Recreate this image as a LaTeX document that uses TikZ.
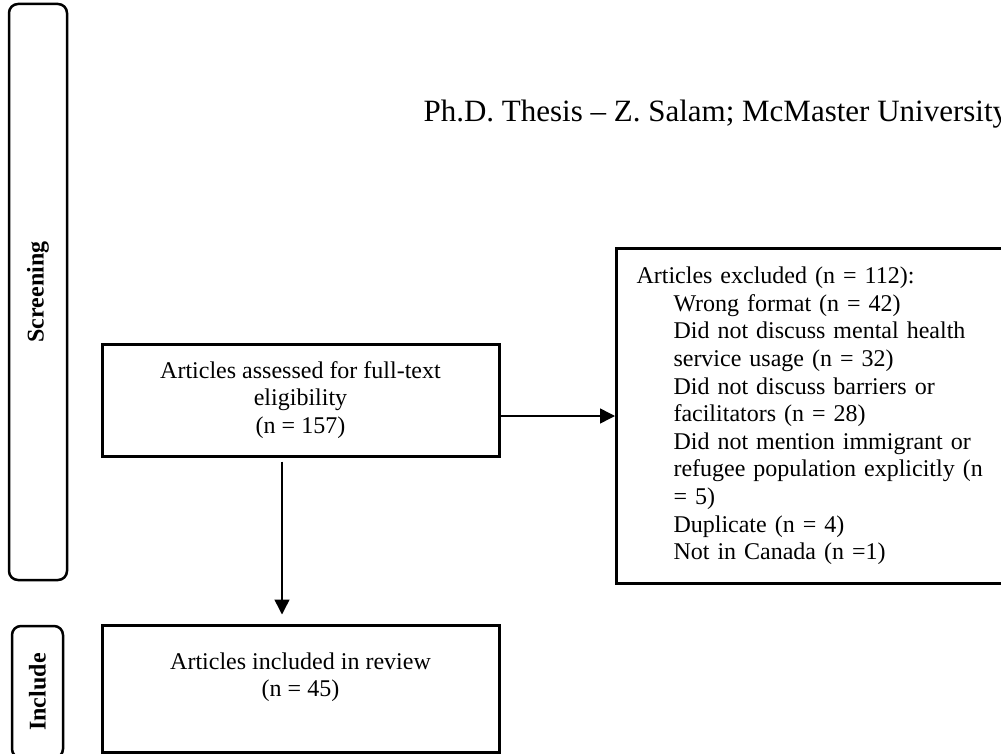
\documentclass[tikz,border=0pt]{standalone}
\usepackage{fontspec}
\setmainfont{Liberation Serif}
\usetikzlibrary{arrows.meta}

\begin{document}
\begin{tikzpicture}[x=1pt, y=-1pt,
    every node/.style={font=\fontsize{24}{27.6}\selectfont},
    flowbox/.style={draw, line width=3pt, inner sep=0pt, align=center},
    stagebox/.style={draw, line width=2.5pt, rounded corners=9pt, rotate=90,
      font=\bfseries\fontsize{24}{27.6}\selectfont},
    flowarrow/.style={line width=1.5pt, -{Triangle[length=15pt,width=15pt]}}]
    \useasboundingbox (0,0) rectangle (1001,754);

    % page header
    \node[anchor=base west, font=\fontsize{31}{37}\selectfont] (header) at (420,122)
      {Ph.D. Thesis – Z. Salam; McMaster University};

    % stage labels
    \node[stagebox, minimum width=576pt, minimum height=58pt] (screening) at (38,292) {Screening};
    \node[stagebox, minimum width=132pt, minimum height=51pt] (include) at (37.5,692) {Include};

    % boxes
    \node[flowbox, minimum width=397pt, minimum height=112pt] (assessed) at (300.5,400)
      {Articles assessed for full-text\\eligibility\\(n = 157)};
    \node[flowbox, minimum width=397pt, minimum height=127pt] (included) at (300.5,688.5)
      {Articles included in review\\(n = 45)\\\mbox{}};
    \node[flowbox, align=left, text width=380pt, inner xsep=20pt, minimum height=335pt,
      anchor=north west] (excluded) at (615,247)
      {Articles excluded (n = 112):\\
       \hspace*{37pt}Wrong format (n = 42)\\
       \hspace*{37pt}Did not discuss mental health\\
       \hspace*{37pt}service usage (n = 32)\\
       \hspace*{37pt}Did not discuss barriers or\\
       \hspace*{37pt}facilitators (n = 28)\\
       \hspace*{37pt}Did not mention immigrant or\\
       \hspace*{37pt}refugee population explicitly (n\\
       \hspace*{37pt}= 5)\\
       \hspace*{37pt}Duplicate (n = 4)\\
       \hspace*{37pt}Not in Canada (n =1)};

    % arrows
    \draw[flowarrow] (assessed.east |- excluded.west) -- (excluded.west);
    \draw[flowarrow] ([xshift=-18.5pt,yshift=-4pt]assessed.south) -- ([xshift=-18.5pt,yshift=9pt]included.north);
\end{tikzpicture}
\end{document}
